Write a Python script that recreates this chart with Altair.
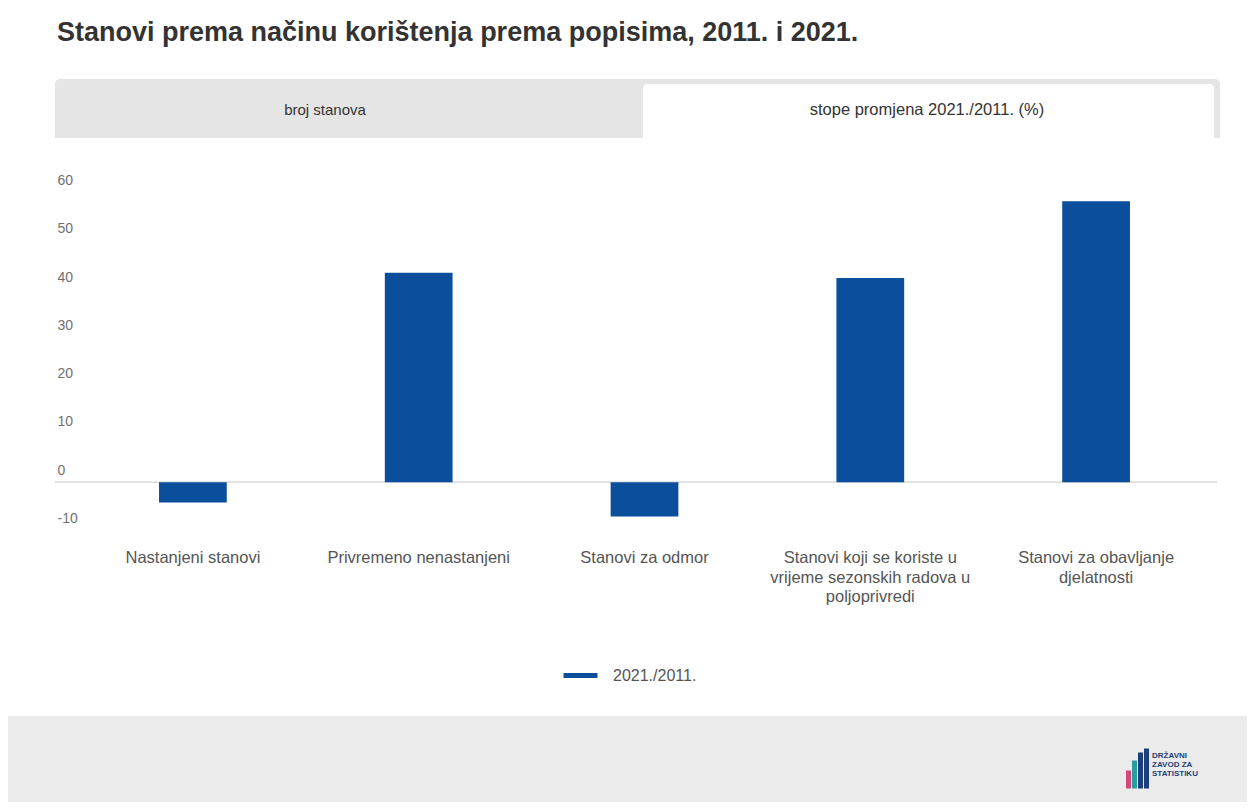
import altair as alt
import pandas as pd

# ---- data ----
CATEGORIES = [
    "Nastanjeni stanovi",
    "Privremeno nenastanjeni",
    "Stanovi za odmor",
    "Stanovi koji se koriste u vrijeme sezonskih radova u poljoprivredi",
    "Stanovi za obavljanje djelatnosti",
]
LABEL_LINES = [
    ["Nastanjeni stanovi"],
    ["Privremeno nenastanjeni"],
    ["Stanovi za odmor"],
    ["Stanovi koji se koriste u", "vrijeme sezonskih radova u", "poljoprivredi"],
    ["Stanovi za obavljanje", "djelatnosti"],
]
VALUES = [-4.2, 43.4, -7.1, 42.3, 58.2]
SERIES = "2021./2011."
Y_TICKS = [-10, 0, 10, 20, 30, 40, 50, 60]
TITLE = "Stanovi prema načinu korištenja prema popisima, 2011. i 2021."
TAB_LEFT = "broj stanova"
TAB_RIGHT = "stope promjena 2021./2011. (%)"

BLUE = "#0b4f9c"
FONT = "Liberation Sans"

df = pd.DataFrame({"category": CATEGORIES, "value": VALUES, "series": [SERIES] * len(VALUES)})

W, H = 1129, 338
one = pd.DataFrame({"k": [0]})

# label expression for wrapped x labels
expr = "datum.label"
for cat, lines in zip(CATEGORIES, LABEL_LINES):
    arr = "[" + ",".join("'" + l + "'" for l in lines) + "]"
    expr = f"datum.label == '{cat}' ? {arr} : ({expr})"

# ---- decorations ----
title = alt.Chart(one).mark_text(
    text=TITLE, font=FONT, fontSize=27, fontWeight="bold", color="#333333",
    align="left", baseline="middle"
).encode(x=alt.value(-23), y=alt.value(-159.5))

tab_bg = alt.Chart(one).mark_rect(
    color="#e5e5e5", cornerRadiusTopLeft=5, cornerRadiusTopRight=5
).encode(x=alt.value(-25), x2=alt.value(1140), y=alt.value(-113.5), y2=alt.value(-54.5))

tab_active = alt.Chart(one).mark_rect(
    color="#ffffff", cornerRadiusTopLeft=4, cornerRadiusTopRight=4
).encode(x=alt.value(563), x2=alt.value(1134), y=alt.value(-108.5), y2=alt.value(-54.5))

tab_l_text = alt.Chart(one).mark_text(
    text=TAB_LEFT, font=FONT, fontSize=15, color="#333333", baseline="middle"
).encode(x=alt.value(245), y=alt.value(-82.5))

tab_r_text = alt.Chart(one).mark_text(
    text=TAB_RIGHT, font=FONT, fontSize=16.5, color="#333333", baseline="middle"
).encode(x=alt.value(847), y=alt.value(-82.5))

footer = alt.Chart(one).mark_rect(color="#ebebeb").encode(
    x=alt.value(-72), x2=alt.value(1167), y=alt.value(523.5), y2=alt.value(612)
)

logo_bars = pd.DataFrame({
    "x": [1046, 1052, 1058, 1064],
    "y": [578, 568, 560, 556],
    "c": ["#d6457a", "#2a9d9f", "#1d3f7a", "#1d3f7a"],
})
logo = alt.Chart(logo_bars).mark_rect().encode(
    x=alt.X("x:Q", scale=None), x2=alt.X2("x2:Q"),
    y=alt.Y("y:Q", scale=None), y2=alt.value(596),
    fill=alt.Fill("c:N", scale=None, legend=None),
).transform_calculate(x2="datum.x + 5")

logo_text = alt.Chart(pd.DataFrame({
    "t": ["DRŽAVNI", "ZAVOD ZA", "STATISTIKU"], "y": [563, 572, 581]
})).mark_text(font=FONT, fontSize=8, fontWeight="bold", color="#1d3f7a", align="left", baseline="middle").encode(
    x=alt.value(1072), y=alt.Y("y:Q", scale=None), text="t:N"
)

# ---- data layers ----
base = alt.Chart(df)

zero = base.mark_rule(color="#e0e0e0", strokeWidth=1).encode(
    y=alt.datum(0), x=alt.value(-25), x2=alt.value(1137)
)

bars = base.mark_bar().encode(
    x=alt.X(
        "category:N", sort=CATEGORIES, title=None,
        scale=alt.Scale(paddingInner=0.7, paddingOuter=0.35),
        axis=alt.Axis(
            labelAngle=0, labelExpr=expr, labelFontSize=16.5, labelColor="#555555",
            labelPadding=19, labelLineHeight=19.5, labelBaseline="top",
            domain=False, ticks=False, labelLimit=300, labelFont=FONT,
        ),
    ),
    y=alt.Y(
        "value:Q", title=None,
        scale=alt.Scale(domain=[-10, 60], nice=False, zero=False),
        axis=alt.Axis(
            values=Y_TICKS, grid=False, domain=False, ticks=False, labelExpr="'' + datum.value",
            labelAlign="left", labelPadding=23, labelBaseline="middle", labelOffset=-12,
            labelFontSize=14, labelColor="#707070", labelFont=FONT,
        ),
    ),
    color=alt.Color(
        "series:N", scale=alt.Scale(range=[BLUE]), title=None,
        legend=alt.Legend(
            orient="none", legendX=481, legendY=463.5, symbolType="stroke",
            symbolStrokeWidth=5, symbolSize=1156, symbolStrokeColor=BLUE,
            labelFontSize=16, labelColor="#555555", labelFont=FONT, labelOffset=13,
        ),
    ),
)

chart = alt.layer(
    tab_bg, tab_active, tab_l_text, tab_r_text, title, footer, logo, logo_text, zero, bars
).properties(
    width=W, height=H,
    autosize=alt.AutoSizeParams(type="none"),
    padding={"left": 72, "top": 184.5, "right": 38, "bottom": 271.5},
    background="white",
).configure(font=FONT, view=alt.ViewConfig(stroke="transparent"))

chart.save("out.html", embed_options={"renderer": "svg", "actions": False})
